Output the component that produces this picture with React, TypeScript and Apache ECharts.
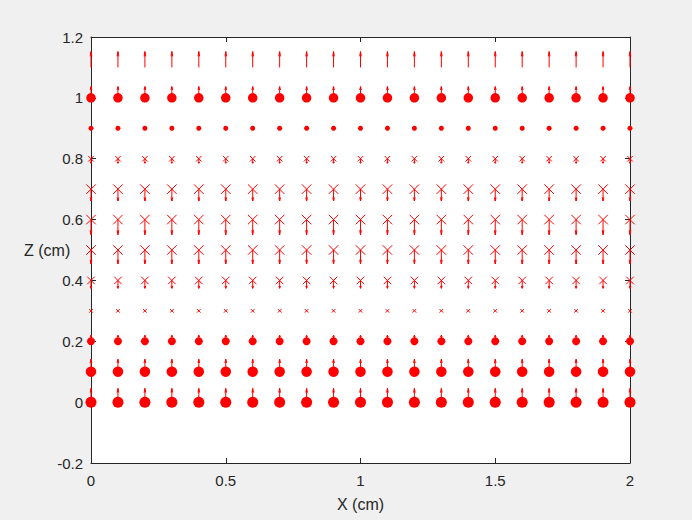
import React, { useEffect, useRef } from "react";
import * as echarts from "echarts";

// Grid columns (X, cm)
const xValues = [0, 0.1, 0.2, 0.3, 0.4, 0.5, 0.6, 0.7, 0.8, 0.9, 1.0, 1.1, 1.2, 1.3, 1.4, 1.5, 1.6, 1.7, 1.8, 1.9, 2.0];
// Grid rows (Z, cm)
const zRows = [0, 0.1, 0.2, 0.3, 0.4, 0.5, 0.6, 0.7, 0.8, 0.9, 1.0, 1.1];
// Marker type per row: "o" dot, "x" cross, "-" none
const rowMarker = ["o", "o", "o", "x", "x", "x", "x", "x", "x", "o", "o", "-"];
// Marker size per row (px)
const rowMarkerSize = [11, 10.5, 8, 3.5, 7.5, 9.5, 9.5, 9.5, 5.5, 5, 9.5, 0];
// Vertical vector component per row (cm, arrow length in data units)
const rowArrowDz = [0.045, 0.041, 0.02, 0, -0.026, -0.046, -0.05, -0.039, -0.015, 0, 0.037, 0.052];
// Tick values
const xTicks = [0, 0.5, 1, 1.5, 2];
const zTicks = [-0.2, 0, 0.2, 0.4, 0.6, 0.8, 1, 1.2];

const RED = "#ff0000";
const AXIS = "#262626";
const FONT = "'Liberation Sans', Arial, Helvetica, sans-serif";

export default function App() {
  const ref = useRef<HTMLDivElement>(null);

  useEffect(() => {
    if (!ref.current) return;
    const chart = echarts.init(ref.current, null, { renderer: "svg" });

    const dots: number[][] = [];
    const crosses: number[][] = [];
    const arrows: number[][] = [];
    zRows.forEach((z, r) => {
      xValues.forEach((x) => {
        if (rowMarker[r] === "o") dots.push([x, z, rowMarkerSize[r]]);
        if (rowMarker[r] === "x") crosses.push([x, z, rowMarkerSize[r]]);
        if (rowArrowDz[r] !== 0) arrows.push([x, z, rowArrowDz[r]]);
      });
    });

    const fmt = (v: number) => String(parseFloat(Number(v).toFixed(2)));

    const baseX = {
      type: "value",
      min: xTicks[0],
      max: xTicks[xTicks.length - 1],
      interval: 0.5,
      splitLine: { show: false },
      axisLine: { show: true, onZero: false, lineStyle: { color: AXIS, width: 1 } },
      axisTick: { show: true, inside: true, length: 5, lineStyle: { color: AXIS } },
    };
    const baseY = {
      type: "value",
      min: zTicks[0],
      max: zTicks[zTicks.length - 1],
      interval: 0.2,
      splitLine: { show: false },
      axisLine: { show: true, onZero: false, lineStyle: { color: AXIS, width: 1 } },
      axisTick: { show: true, inside: true, length: 5, lineStyle: { color: AXIS } },
    };

    chart.setOption({
      animation: false,
      backgroundColor: "#f0f0f0",
      grid: {
        left: 91,
        right: 62,
        top: 37,
        bottom: 57,
        show: true,
        backgroundColor: "#ffffff",
        borderWidth: 0,
      },
      graphic: [
        {
          type: "text",
          left: 24,
          top: 242,
          style: { text: "Z (cm)", fill: AXIS, fontSize: 16, fontFamily: FONT },
        },
      ],
      xAxis: [
        {
          ...baseX,
          position: "bottom",
          name: "X (cm)",
          nameLocation: "middle",
          nameGap: 33,
          nameTextStyle: { color: AXIS, fontSize: 16, fontFamily: FONT },
          axisLabel: { color: AXIS, fontSize: 15, fontFamily: FONT, margin: 10, formatter: fmt },
        },
        {
          ...baseX,
          position: "top",
          axisLabel: { show: false },
        },
      ],
      yAxis: [
        {
          ...baseY,
          position: "left",
          axisLabel: { color: AXIS, fontSize: 15, fontFamily: FONT, margin: 8, formatter: fmt },
        },
        {
          ...baseY,
          position: "right",
          axisLabel: { show: false },
        },
      ],
      series: [
        {
          type: "scatter",
          name: "dots",
          xAxisIndex: 0,
          yAxisIndex: 0,
          clip: false,
          symbol: "circle",
          symbolSize: (v: number[]) => v[2],
          itemStyle: { color: RED, opacity: 1 },
          data: dots,
          z: 2,
        },
        {
          type: "custom",
          name: "crosses",
          xAxisIndex: 0,
          yAxisIndex: 0,
          clip: false,
          encode: { x: 0, y: 1 },
          data: crosses,
          renderItem: (params: any, api: any) => {
            const p = api.coord([api.value(0), api.value(1)]);
            const s = api.value(2) / 2;
            return {
              type: "group",
              children: [
                { type: "line", shape: { x1: p[0] - s, y1: p[1] - s, x2: p[0] + s, y2: p[1] + s }, style: { stroke: RED, lineWidth: 1 } },
                { type: "line", shape: { x1: p[0] - s, y1: p[1] + s, x2: p[0] + s, y2: p[1] - s }, style: { stroke: RED, lineWidth: 1 } },
              ],
            };
          },
          z: 3,
        },
        {
          type: "custom",
          name: "arrows",
          xAxisIndex: 0,
          yAxisIndex: 0,
          clip: false,
          encode: { x: 0, y: 1 },
          data: arrows,
          renderItem: (params: any, api: any) => {
            const x = api.value(0);
            const z = api.value(1);
            const dz = api.value(2);
            const p0 = api.coord([x, z]);
            const p1 = api.coord([x, z + dz]);
            const dy = p1[1] - p0[1];
            const dir = dy < 0 ? -1 : 1;
            const h = Math.abs(dy) * 0.3;
            const w = 0.8;
            return {
              type: "group",
              children: [
                { type: "line", shape: { x1: p0[0], y1: p0[1], x2: p1[0], y2: p1[1] }, style: { stroke: RED, lineWidth: 1 } },
                {
                  type: "polyline",
                  shape: { points: [[p1[0] - w, p1[1] - dir * h], [p1[0], p1[1]], [p1[0] + w, p1[1] - dir * h]] },
                  style: { stroke: RED, lineWidth: 1, fill: null },
                },
              ],
            };
          },
          z: 4,
        },
      ],
    });

    return () => chart.dispose();
  }, []);

  return (
    <div
      ref={ref}
      style={{ position: "fixed", left: 0, top: 0, width: 692, height: 520 }}
    />
  );
}
